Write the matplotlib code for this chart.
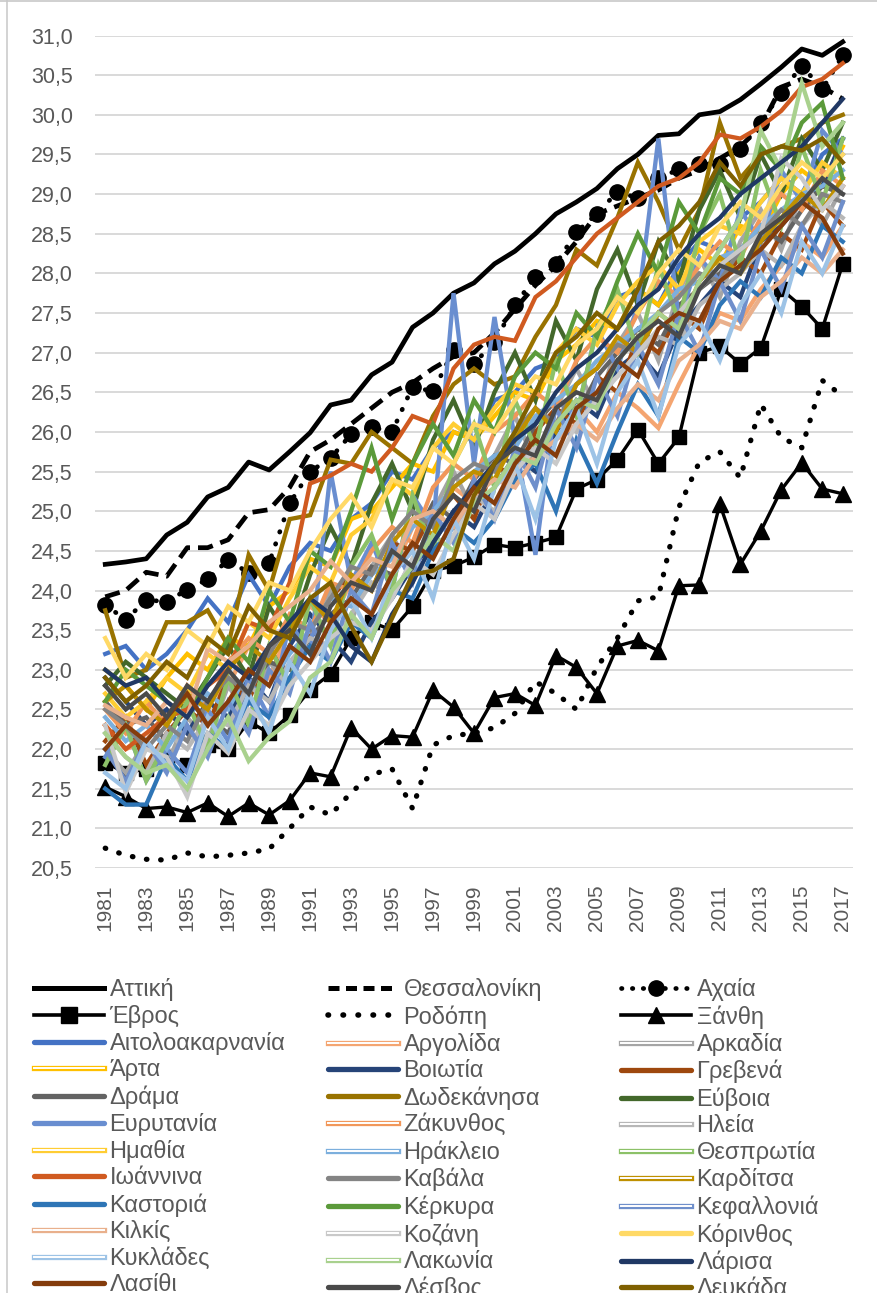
import matplotlib
matplotlib.use('Agg')
import matplotlib.pyplot as plt
from matplotlib.lines import Line2D
import matplotlib.patheffects as pe
from matplotlib import font_manager

# ---------------- data ----------------
years = list(range(1981, 2018))

attiki = [24.33, 24.36, 24.40, 24.70, 24.86, 25.18, 25.30, 25.62, 25.52, 25.75,
          25.99, 26.34, 26.40, 26.72, 26.88, 27.32, 27.50, 27.75, 27.88, 28.12,
          28.28, 28.50, 28.75, 28.90, 29.07, 29.32, 29.50, 29.74, 29.76, 30.00,
          30.04, 30.19, 30.39, 30.60, 30.83, 30.75, 30.92]
thessaloniki = [23.92, 24.00, 24.23, 24.18, 24.54, 24.54, 24.64, 24.98, 25.02, 25.30,
                25.75, 25.90, 26.10, 26.30, 26.50, 26.62, 26.80, 26.95, 27.00, 27.25,
                27.55, 27.85, 28.10, 28.40, 28.75, 28.85, 28.95, 29.05, 29.20, 29.30,
                29.45, 29.60, 29.85, 30.35, 30.45, 30.35, 30.20]
achaia = [23.82, 23.63, 23.88, 23.86, 24.01, 24.14, 24.39, 24.22, 24.35, 25.10,
          25.50, 25.67, 25.97, 26.06, 26.00, 26.57, 26.51, 27.03, 26.86, 27.14,
          27.60, 27.96, 28.12, 28.52, 28.75, 29.03, 28.95, 29.20, 29.31, 29.38,
          29.38, 29.57, 29.90, 30.28, 30.62, 30.32, 30.75]
evros = [21.83, 21.70, 21.75, 21.90, 21.80, 22.05, 22.00, 22.35, 22.20, 22.43,
         22.75, 22.95, 23.40, 23.60, 23.50, 23.80, 24.25, 24.31, 24.42, 24.58,
         24.54, 24.60, 24.67, 25.28, 25.40, 25.65, 26.03, 25.60, 25.93, 27.00,
         27.08, 26.86, 27.06, 27.80, 27.58, 27.30, 28.12]
rodopi = [20.75, 20.66, 20.61, 20.60, 20.69, 20.64, 20.66, 20.69, 20.74, 21.00,
          21.27, 21.17, 21.45, 21.68, 21.75, 21.25, 22.05, 22.17, 22.20, 22.27,
          22.45, 22.85, 22.70, 22.50, 23.03, 23.40, 23.87, 23.92, 25.05, 25.62,
          25.75, 25.42, 26.35, 25.93, 25.80, 26.65, 26.45]
xanthi = [21.52, 21.40, 21.25, 21.27, 21.20, 21.32, 21.15, 21.32, 21.17, 21.35,
          21.70, 21.65, 22.27, 22.00, 22.17, 22.15, 22.74, 22.53, 22.20, 22.65,
          22.70, 22.55, 23.18, 23.03, 22.70, 23.30, 23.37, 23.24, 24.06, 24.07,
          25.09, 24.33, 24.75, 25.27, 25.61, 25.28, 25.22]

aitoloakarnania = [23.20, 23.30, 23.00, 23.20, 23.50, 23.90, 23.60, 24.20, 23.80, 24.30,
                   24.60, 24.50, 24.90, 25.10, 25.50, 25.40, 25.80, 26.00, 25.90, 26.40,
                   26.50, 26.80, 26.90, 27.30, 27.20, 27.70, 27.80, 27.60, 28.10, 28.40,
                   28.30, 28.70, 28.90, 29.20, 29.00, 29.50, 29.70]
argolida = [22.30, 22.00, 22.10, 22.50, 22.20, 22.60, 22.80, 23.30, 22.90, 23.50,
            23.80, 23.60, 24.10, 24.30, 24.20, 24.80, 25.00, 25.30, 25.10, 25.60,
            25.80, 25.60, 26.10, 26.30, 26.00, 26.50, 26.30, 26.05, 26.60, 27.10,
            27.50, 27.40, 27.80, 28.10, 28.40, 28.20, 28.60]
arkadia = [22.00, 21.70, 22.10, 21.80, 22.40, 22.10, 22.80, 22.40, 23.10, 22.80,
           23.50, 24.00, 23.60, 24.30, 24.70, 24.20, 25.00, 25.50, 25.00, 25.70,
           26.20, 25.60, 26.30, 26.80, 26.30, 27.10, 27.50, 26.90, 27.80, 28.20,
           27.70, 28.40, 28.80, 28.30, 29.00, 28.60, 29.10]
arta = [23.00, 22.80, 22.50, 22.90, 23.20, 23.00, 23.40, 23.30, 23.80, 24.00,
        24.40, 24.30, 24.90, 25.00, 25.30, 25.60, 25.50, 26.00, 25.90, 26.20,
        26.50, 26.40, 26.90, 27.10, 27.40, 27.30, 27.80, 27.60, 28.00, 28.30,
        28.10, 28.60, 28.50, 29.00, 29.30, 29.10, 29.60]
voiotia = [22.90, 22.60, 22.30, 22.50, 22.20, 22.60, 22.40, 22.90, 22.60, 23.30,
           23.70, 23.40, 23.10, 23.60, 23.90, 24.30, 24.60, 25.00, 24.80, 25.30,
           25.70, 25.50, 26.00, 26.40, 26.20, 26.80, 27.00, 26.70, 27.30, 27.60,
           27.90, 27.70, 28.40, 28.60, 28.90, 29.10, 29.70]
grevena = [22.10, 22.40, 21.80, 22.20, 22.50, 22.30, 22.90, 22.60, 23.30, 22.80,
           23.50, 23.90, 24.20, 24.00, 24.60, 24.50, 25.00, 25.20, 24.90, 25.60,
           25.40, 26.00, 26.30, 26.10, 26.70, 26.50, 27.20, 27.00, 27.50, 27.30,
           27.90, 28.20, 28.00, 28.50, 28.30, 28.90, 28.60]
drama = [22.60, 22.30, 22.40, 22.10, 22.60, 22.40, 22.20, 22.80, 23.10, 23.00,
         23.40, 23.70, 23.90, 24.30, 24.20, 24.60, 25.10, 24.90, 25.40, 25.70,
         25.60, 26.10, 26.40, 26.20, 26.70, 27.00, 27.30, 27.10, 27.60, 27.80,
         28.00, 28.30, 28.60, 28.40, 28.80, 29.10, 29.00]
dodekanisa = [23.75, 22.90, 23.00, 23.60, 23.60, 23.75, 23.30, 24.45, 24.00, 24.90,
              24.95, 25.65, 25.60, 26.00, 25.80, 25.60, 26.20, 26.60, 26.80, 26.60,
              26.70, 27.20, 27.60, 28.30, 28.10, 28.70, 29.40, 28.90, 28.30, 28.80,
              29.90, 29.20, 29.50, 29.60, 29.70, 29.90, 30.00]
evoia = [22.80, 23.10, 22.90, 22.70, 22.50, 22.90, 23.30, 22.90, 23.80, 23.40,
         24.20, 24.80, 24.30, 25.10, 25.60, 25.00, 25.90, 26.40, 25.80, 26.50,
         27.00, 26.40, 27.40, 26.90, 27.80, 28.30, 27.60, 28.40, 27.90, 28.80,
         29.30, 28.70, 29.50, 29.00, 29.70, 29.30, 29.90]
evrytania = [21.90, 22.30, 21.60, 22.00, 21.70, 22.50, 22.10, 22.90, 22.40, 23.60,
             23.20, 25.50, 24.10, 24.60, 24.00, 25.20, 24.80, 27.75, 25.60, 27.45,
             25.90, 24.45, 26.40, 26.20, 27.30, 26.80, 27.60, 29.70, 27.40, 28.20,
             27.90, 28.80, 28.40, 29.30, 28.90, 29.80, 29.50]
zakynthos = [22.50, 22.20, 22.60, 22.30, 22.80, 22.50, 23.10, 23.40, 23.20, 23.70,
             23.50, 24.10, 24.00, 24.50, 24.80, 24.60, 25.30, 25.60, 25.40, 26.00,
             26.20, 26.50, 26.30, 26.90, 27.20, 27.00, 27.50, 27.90, 27.70, 28.10,
             28.40, 28.20, 28.70, 29.00, 28.80, 29.30, 29.10]
ileia = [22.20, 21.90, 21.70, 22.20, 22.00, 22.40, 22.30, 22.80, 22.60, 23.10,
         23.40, 23.30, 23.70, 24.10, 23.90, 24.40, 24.70, 24.90, 25.20, 25.00,
         25.60, 25.80, 26.10, 26.00, 26.50, 26.70, 27.00, 27.20, 27.10, 27.60,
         27.80, 28.00, 28.30, 28.10, 28.60, 28.90, 28.70]
imathia = [22.70, 22.40, 22.60, 22.90, 22.70, 23.20, 23.00, 23.60, 23.40, 23.90,
           24.30, 24.10, 24.70, 24.90, 25.40, 25.20, 25.80, 26.10, 25.90, 26.30,
           26.60, 26.50, 27.00, 27.30, 27.10, 27.60, 27.90, 28.10, 27.80, 28.40,
           28.60, 28.50, 28.90, 29.20, 29.00, 29.40, 29.20]
irakleio = [22.40, 22.10, 22.30, 22.00, 22.40, 22.70, 22.50, 23.00, 22.80, 23.20,
            23.50, 23.90, 23.80, 24.20, 24.40, 24.80, 25.00, 25.30, 25.50, 25.70,
            25.80, 26.20, 26.40, 26.60, 26.90, 27.10, 27.30, 27.50, 27.80, 27.90,
            28.20, 28.30, 28.60, 28.80, 29.00, 29.10, 29.30]
thesprotia = [21.80, 22.30, 21.60, 22.10, 22.60, 22.00, 22.90, 22.30, 23.30, 22.80,
              23.90, 23.30, 24.30, 24.70, 24.00, 25.20, 24.50, 25.60, 26.10, 25.30,
              26.40, 25.80, 26.90, 26.20, 27.30, 27.80, 27.00, 28.10, 27.40, 28.50,
              29.00, 28.10, 29.30, 28.60, 29.60, 28.90, 29.70]
ioannina = [22.30, 22.00, 22.20, 22.40, 22.50, 22.80, 23.00, 23.60, 23.50, 24.10,
            25.35, 25.45, 25.60, 25.50, 25.80, 26.20, 26.10, 26.80, 27.10, 27.20,
            27.15, 27.70, 27.90, 28.20, 28.50, 28.70, 28.90, 29.10, 29.20, 29.40,
            29.75, 29.70, 29.85, 30.05, 30.35, 30.45, 30.65]
kavala = [22.50, 22.30, 22.00, 22.30, 22.10, 22.60, 22.90, 22.70, 23.20, 23.60,
          23.50, 23.90, 24.30, 24.20, 24.70, 25.00, 24.80, 25.40, 25.60, 25.50,
          26.00, 26.30, 26.10, 26.60, 26.80, 27.10, 27.00, 27.50, 27.70, 28.00,
          27.90, 28.30, 28.50, 28.80, 28.60, 29.00, 28.90]
karditsa = [22.60, 22.80, 22.50, 22.30, 22.70, 22.50, 23.00, 23.30, 23.10, 23.50,
            23.90, 23.60, 24.20, 24.00, 24.60, 24.90, 24.70, 25.30, 25.50, 25.40,
            25.90, 26.30, 26.00, 26.60, 26.80, 27.20, 27.00, 27.50, 27.30, 27.90,
            28.20, 28.00, 28.40, 28.70, 29.00, 28.80, 29.20]
kastoria = [21.50, 21.30, 21.30, 21.90, 21.60, 22.20, 22.00, 22.60, 22.40, 22.90,
            23.30, 23.10, 23.60, 23.40, 24.00, 23.90, 24.50, 24.80, 24.60, 24.90,
            25.40, 25.60, 25.00, 25.90, 25.35, 26.00, 26.60, 26.20, 27.20, 27.00,
            27.60, 27.90, 27.70, 28.20, 28.00, 28.60, 28.40]
kerkyra = [22.60, 23.00, 22.80, 22.60, 22.40, 22.90, 23.40, 23.10, 24.00, 23.60,
           24.50, 24.30, 25.00, 25.80, 24.90, 25.60, 26.10, 25.70, 26.40, 26.00,
           26.70, 27.00, 26.80, 27.50, 27.20, 27.90, 28.50, 28.00, 28.90, 28.50,
           29.20, 29.00, 29.60, 29.30, 29.90, 30.15, 29.20]
kefallonia = [22.00, 21.60, 22.10, 21.70, 22.30, 21.90, 22.60, 22.20, 23.00, 22.70,
              23.60, 23.10, 24.00, 23.70, 24.60, 24.10, 25.00, 24.60, 25.40, 24.90,
              25.80, 25.30, 26.30, 25.80, 26.70, 26.20, 27.10, 26.60, 27.50, 27.00,
              27.90, 27.40, 28.30, 27.80, 28.60, 28.20, 28.90]
kilkis = [22.55, 22.40, 22.30, 22.60, 22.40, 23.27, 23.10, 23.30, 23.60, 23.80,
          24.00, 24.37, 24.10, 24.40, 24.30, 24.90, 25.00, 24.80, 25.20, 25.40,
          25.30, 25.70, 25.90, 26.10, 25.90, 26.30, 26.60, 26.40, 26.90, 27.10,
          27.40, 27.30, 27.70, 27.90, 28.20, 28.00, 28.30]
kozani = [22.30, 21.45, 22.00, 21.90, 21.40, 22.20, 21.95, 22.50, 22.30, 22.80,
          23.10, 23.40, 23.60, 23.50, 23.90, 24.40, 24.20, 24.70, 25.10, 24.90,
          25.50, 25.80, 25.60, 26.10, 26.40, 26.70, 27.00, 27.30, 27.50, 27.80,
          28.10, 28.30, 28.50, 29.45, 29.20, 28.80, 29.10]
korinthos = [23.40, 22.90, 23.20, 23.00, 23.50, 23.30, 23.80, 23.60, 24.10, 24.00,
             24.50, 24.90, 25.20, 24.80, 25.40, 25.30, 25.80, 25.60, 26.10, 26.00,
             26.40, 26.70, 26.60, 27.10, 27.30, 27.70, 27.50, 28.00, 28.30, 28.10,
             28.60, 28.90, 28.70, 29.10, 29.40, 29.20, 29.50]
kyklades = [21.70, 21.50, 22.10, 21.80, 21.60, 22.40, 22.00, 22.70, 22.20, 23.10,
            22.70, 23.50, 23.90, 23.40, 24.20, 24.50, 23.90, 24.90, 24.40, 25.30,
            25.60, 24.90, 25.90, 26.30, 25.60, 26.50, 26.90, 26.20, 27.10, 27.40,
            26.90, 27.60, 28.00, 27.50, 28.40, 28.00, 28.60]
lakonia = [22.20, 21.90, 21.70, 21.80, 21.50, 22.00, 22.40, 21.85, 22.15, 22.35,
           22.90, 23.10, 23.70, 23.40, 24.00, 24.30, 24.70, 24.50, 25.10, 25.30,
           25.70, 25.60, 26.10, 26.40, 26.30, 26.90, 27.20, 27.50, 27.30, 27.90,
           28.30, 28.70, 29.80, 29.30, 30.40, 29.60, 29.90]
larisa = [23.00, 22.80, 22.90, 22.60, 22.40, 22.80, 23.10, 22.90, 23.30, 23.60,
          23.90, 23.70, 23.30, 23.10, 23.70, 24.10, 24.60, 25.00, 25.30, 25.60,
          25.90, 26.10, 26.50, 26.80, 27.00, 27.30, 27.60, 27.80, 28.20, 28.50,
          28.70, 29.00, 29.20, 29.40, 29.60, 29.90, 30.20]
lasithi = [22.00, 22.30, 22.10, 22.40, 22.70, 22.30, 22.60, 23.00, 22.80, 23.30,
           23.10, 23.60, 23.90, 23.70, 24.20, 24.60, 24.40, 24.90, 25.30, 25.10,
           25.60, 25.90, 25.70, 26.30, 26.50, 26.90, 26.70, 27.30, 27.50, 27.40,
           27.90, 28.10, 28.30, 28.60, 28.90, 28.70, 28.25]
lesvos = [22.80, 22.50, 22.70, 22.40, 22.80, 22.60, 23.00, 22.70, 23.30, 23.50,
          23.20, 23.80, 24.10, 24.00, 24.50, 24.30, 24.90, 25.20, 25.00, 25.60,
          25.80, 25.70, 26.30, 26.50, 26.40, 26.90, 27.20, 27.40, 27.20, 27.80,
          28.10, 28.00, 28.50, 28.70, 28.90, 29.20, 29.00]
lefkada = [22.90, 22.60, 22.80, 23.10, 22.90, 23.40, 23.20, 23.80, 23.50, 23.40,
           23.90, 24.10, 23.55, 23.10, 23.65, 24.20, 24.25, 24.40, 25.20, 25.60,
           26.00, 26.50, 27.00, 27.20, 27.50, 27.30, 27.80, 28.40, 28.60, 28.90,
           29.40, 29.10, 29.50, 29.60, 29.55, 29.70, 29.40]

# (label, values, color, double-line style in legend)
colored = [
    ("Αιτολοακαρνανία", aitoloakarnania, "#4472C4", False),
    ("Αργολίδα", argolida, "#F4A571", True),
    ("Αρκαδία", arkadia, "#A5A5A5", True),
    ("Άρτα", arta, "#FFC000", True),
    ("Βοιωτία", voiotia, "#264478", False),
    ("Γρεβενά", grevena, "#9E480E", False),
    ("Δράμα", drama, "#636363", False),
    ("Δωδεκάνησα", dodekanisa, "#997300", False),
    ("Εύβοια", evoia, "#43682B", False),
    ("Ευρυτανία", evrytania, "#698ED0", False),
    ("Ζάκυνθος", zakynthos, "#F1975A", True),
    ("Ηλεία", ileia, "#B7B7B7", True),
    ("Ημαθία", imathia, "#FFCD33", True),
    ("Ηράκλειο", irakleio, "#7CAFDD", True),
    ("Θεσπρωτία", thesprotia, "#8CC168", True),
    ("Ιωάννινα", ioannina, "#D05A20", False),
    ("Καβάλα", kavala, "#848484", False),
    ("Καρδίτσα", karditsa, "#BF9000", True),
    ("Καστοριά", kastoria, "#2E75B6", False),
    ("Κέρκυρα", kerkyra, "#5B9A3A", False),
    ("Κεφαλλονιά", kefallonia, "#6F8FCB", True),
    ("Κιλκίς", kilkis, "#E9B08C", True),
    ("Κοζάνη", kozani, "#C9C9C9", True),
    ("Κόρινθος", korinthos, "#FFD966", False),
    ("Κυκλάδες", kyklades, "#9DC3E6", True),
    ("Λακωνία", lakonia, "#A9D18E", True),
    ("Λάρισα", larisa, "#203864", False),
    ("Λασίθι", lasithi, "#843C0C", False),
    ("Λέσβος", lesvos, "#4A4A4A", False),
    ("Λευκάδα", lefkada, "#7F6000", False),
]

# ---------------- fonts ----------------
names = {f.name for f in font_manager.fontManager.ttflist}
base = 'Liberation Sans' if 'Liberation Sans' in names else 'DejaVu Sans'
plt.rcParams['font.family'] = [base, 'DejaVu Sans']
TXT = '#595959'

W, H = 877, 1293
fig = plt.figure(figsize=(W / 100, H / 100), dpi=100)
fig.patch.set_facecolor('white')

ax_l, ax_r, ax_t, ax_b = 95, 853, 35.5, 868
ax = fig.add_axes([ax_l / W, 1 - ax_b / H, (ax_r - ax_l) / W, (ax_b - ax_t) / H])

x = list(range(len(years)))

dot = (0, (0.1, 2.6))
dash = (0, (3.2, 1.7))

ax.plot(x, attiki, color='black', lw=3.4, solid_joinstyle='round', zorder=3)
ax.plot(x, thessaloniki, color='black', lw=3.4, linestyle=dash, zorder=3)
ax.plot(x, achaia, color='black', lw=3.4, linestyle=dot, dash_capstyle='round',
        marker='o', markersize=11, zorder=3)
ax.plot(x, evros, color='black', lw=2.4, marker='s', markersize=9.5, zorder=3)
ax.plot(x, rodopi, color='black', lw=3.8, linestyle=dot, dash_capstyle='round', zorder=3)
ax.plot(x, xanthi, color='black', lw=2.4, marker='^', markersize=11, zorder=3)

for i, (lab, vals, col, dbl) in enumerate(colored):
    ax.plot(x, vals, color=col, lw=3.1, solid_joinstyle='miter', zorder=4 + i * 0.01)

ax.set_xlim(-0.5, len(years) - 0.5)
ax.set_ylim(20.5, 31.0)
yt = [20.5 + 0.5 * k for k in range(22)]
ax.set_yticks(yt)
ax.set_yticklabels([f"{v:.1f}".replace('.', ',') for v in yt])
ax.set_xticks(x[::2])
ax.set_xticklabels([str(y) for y in years[::2]], rotation=90)
ax.tick_params(axis='y', length=0, pad=16, labelsize=15.5, labelcolor=TXT)
ax.tick_params(axis='x', length=0, pad=12, labelsize=15, labelcolor=TXT)
for s in ax.spines.values():
    s.set_visible(False)
ax.grid(axis='y', color='#D9D9D9', lw=1.4, zorder=0)
ax.set_axisbelow(True)

# ---------------- legend ----------------
items = []
items.append(("Αττική", Line2D([], [], color='black', lw=3.6)))
items.append(("Θεσσαλονίκη", Line2D([], [], color='black', lw=3.6, linestyle=(0, (2.2, 1.3)))))
items.append(("Αχαία", Line2D([], [], color='black', lw=3.4, linestyle=(0, (0.1, 2.2)),
                              dash_capstyle='round', marker='o', markersize=11)))
items.append(("Έβρος", Line2D([], [], color='black', lw=2.6, marker='s', markersize=11)))
items.append(("Ροδόπη", Line2D([], [], color='black', lw=4.0, linestyle=(0, (0.1, 2.6)),
                               dash_capstyle='round')))
items.append(("Ξάνθη", Line2D([], [], color='black', lw=2.6, marker='^', markersize=12)))
for lab, vals, col, dbl in colored:
    if dbl:
        h = Line2D([], [], color=col, lw=3.8,
                   path_effects=[pe.Stroke(linewidth=3.8, foreground=col),
                                 pe.Stroke(linewidth=1.4, foreground='white')])
    else:
        h = Line2D([], [], color=col, lw=3.8, solid_capstyle='round')
    items.append((lab, h))

col_x = [34, 328, 621]
top_y = 978
for c in range(3):
    sub = items[c::3]
    leg = fig.legend([h for _, h in sub], [l for l, _ in sub],
                     loc='upper left', bbox_to_anchor=(col_x[c] / W, 1 - top_y / H),
                     bbox_transform=fig.transFigure, frameon=False, borderpad=0,
                     borderaxespad=0, fontsize=17, handlelength=2.95, handletextpad=0.25,
                     labelspacing=0.175, numpoints=1)
    for t in leg.get_texts():
        t.set_color(TXT)

# chart border on the left and top
fig.add_artist(Line2D([7 / W, 7 / W], [0, 1], transform=fig.transFigure,
                      color='#D0D0D0', lw=1.3))
fig.add_artist(Line2D([0, 1], [1 - 1 / H, 1 - 1 / H], transform=fig.transFigure,
                      color='#C8C8C8', lw=1.2))

fig.savefig('out.png', dpi=100, facecolor='white')
